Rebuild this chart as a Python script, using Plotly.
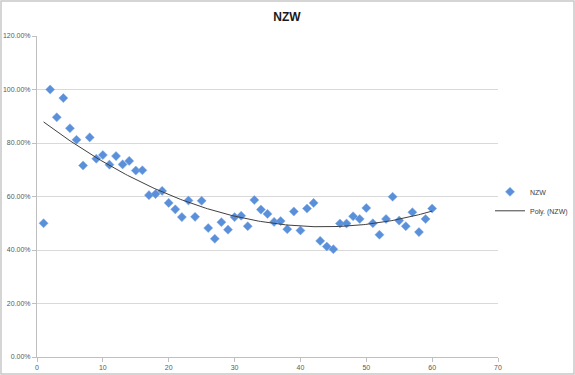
import numpy as np
import plotly.graph_objects as go

x_vals = list(range(1, 61))
nzw_pct = [50.0, 100.0, 89.6, 96.8, 85.5, 81.2, 71.6, 82.1, 74.1, 75.5,
           71.9, 75.1, 72.0, 73.3, 69.7, 69.8, 60.5, 60.9, 62.1, 57.6,
           55.2, 52.3, 58.5, 52.4, 58.4, 48.2, 44.2, 50.4, 47.6, 52.3,
           52.8, 48.9, 58.7, 55.1, 53.5, 50.5, 50.8, 47.8, 54.4, 47.3,
           55.5, 57.6, 43.4, 41.3, 40.3, 49.9, 49.9, 52.6, 51.6, 55.7,
           50.0, 45.7, 51.6, 59.9, 51.0, 48.9, 54.1, 46.7, 51.6, 55.5]
y_ticks = [0, 0.2, 0.4, 0.6, 0.8, 1.0, 1.2]
x_ticks = [0, 10, 20, 30, 40, 50, 60, 70]

nzw = np.array(nzw_pct) / 100.0
xs = np.array(x_vals, dtype=float)
coef = np.polyfit(xs, nzw, 2)
x_fit = np.linspace(xs.min(), xs.max(), 200)
y_fit = np.polyval(coef, x_fit)

W, H = 575, 375
ml, mr, mt, mb = 37, 77, 36, 18
pw, ph = W - ml - mr, H - mt - mb

font_fam = "Liberation Sans, Arial, sans-serif"

fig = go.Figure()
fig.add_trace(go.Scatter(
    x=xs, y=nzw, mode="markers", name="NZW",
    marker=dict(symbol="diamond", size=7, color="#5A8FDA",
                line=dict(width=0.5, color="#7FA8E3")),
))
fig.add_trace(go.Scatter(
    x=x_fit, y=y_fit, mode="lines", name="Poly. (NZW)",
    line=dict(color="#404040", width=1),
))

fig.update_layout(
    width=W, height=H,
    margin=dict(l=ml, r=mr, t=mt, b=mb, pad=0, autoexpand=False),
    paper_bgcolor="white", plot_bgcolor="white",
    title=dict(text="<b>NZW</b>", x=(287 / W), xanchor="center",
               y=1 - 17 / H, yanchor="middle",
               font=dict(family=font_fam, size=12, color="#1a1a1a")),
    showlegend=True,
    legend=dict(x=(490 - ml) / pw, y=(356.7 - 177) / ph, xanchor="left",
                yanchor="top", font=dict(family=font_fam, size=7, color="#404040"),
                bgcolor="rgba(0,0,0,0)", itemwidth=30, tracegroupgap=0),
    font=dict(family=font_fam, size=7, color="#595959"),
)
fig.update_xaxes(
    range=[0, 70], tickvals=x_ticks, ticktext=[str(v) for v in x_ticks],
    showgrid=False, zeroline=False, showline=True, linecolor="#BFBFBF",
    linewidth=1, ticks="outside", ticklen=4, tickcolor="#BFBFBF",
    tickfont=dict(size=7, color="#595959"), automargin=False,
)
fig.update_yaxes(
    range=[0, 1.2], tickvals=y_ticks, tickformat=".2%",
    showgrid=True, gridcolor="#D9D9D9", gridwidth=1, zeroline=False,
    showline=True, linecolor="#BFBFBF", linewidth=1,
    ticks="outside", ticklen=4, tickcolor="#BFBFBF",
    tickfont=dict(size=7, color="#595959"), automargin=False,
)
# outer chart border
fig.add_shape(type="rect", xref="paper", yref="paper",
              x0=(1 - ml) / pw, x1=(W - 1 - ml) / pw,
              y0=-(mb - 1) / ph, y1=(H - mb - 1) / ph,
              line=dict(color="#C8C8C8", width=1.5), layer="below")

fig.write_html("out.html", config={"displayModeBar": False},
               post_script="document.body.style.margin='0';document.body.style.overflow='hidden';")
